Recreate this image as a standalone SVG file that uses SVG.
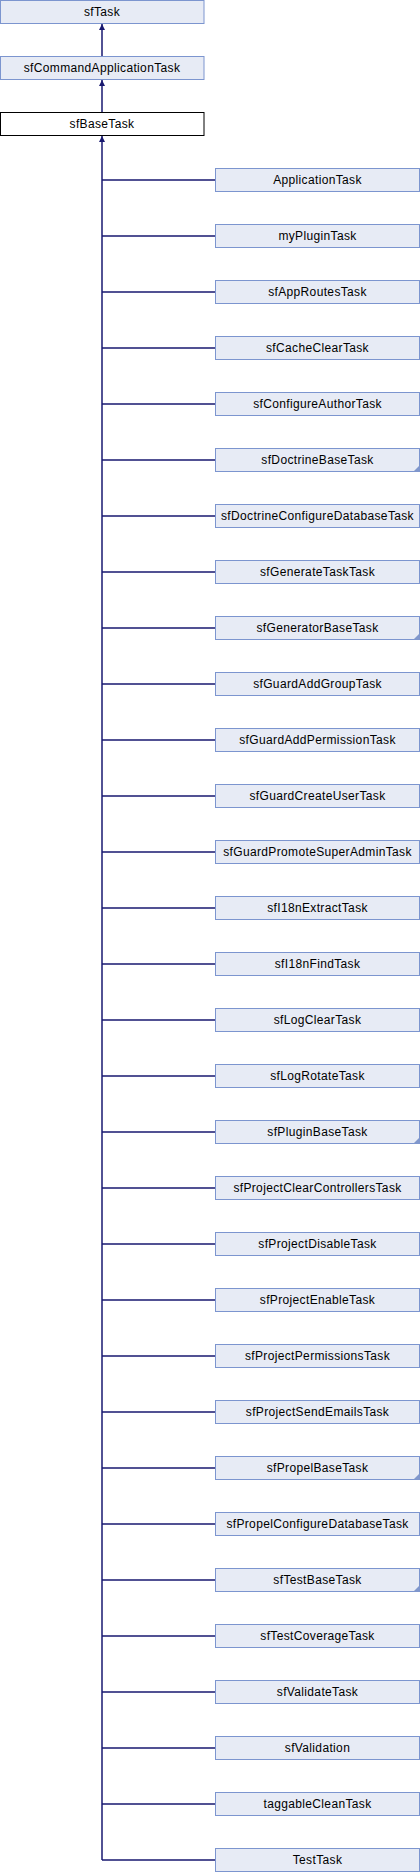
<svg xmlns="http://www.w3.org/2000/svg" width="420" height="1872" viewBox="0 0 420 1872">
<style>
.n rect{fill:#E7EBF5;stroke:#7C95CF;stroke-width:1}
.n.cur rect{fill:#FFFFFF;stroke:#000000}
.n text{font-family:"Liberation Sans",Arial,sans-serif;font-size:12px;letter-spacing:0.35px;fill:#000;text-anchor:middle}
.n polygon{fill:#8097CC;stroke:none}
.e{stroke:#191970;stroke-width:1.5;fill:none}
</style>
<defs>
<marker id="arr" markerUnits="userSpaceOnUse" viewBox="0 0 10 10" refX="10" refY="5" markerWidth="6" markerHeight="7" orient="auto">
<path d="M0,0 L10,5 L0,10 z" fill="#191970"/>
</marker>
</defs>
<g id="connectors">
<path class="e" d="M102,56.5 V24" marker-end="url(#arr)"/>
<path class="e" d="M102,112.5 V80" marker-end="url(#arr)"/>
<path class="e" d="M102,1860 V136" marker-end="url(#arr)"/>
<path class="e" d="M102,180 H215.5 M102,236 H215.5 M102,292 H215.5 M102,348 H215.5 M102,404 H215.5 M102,460 H215.5 M102,516 H215.5 M102,572 H215.5 M102,628 H215.5 M102,684 H215.5 M102,740 H215.5 M102,796 H215.5 M102,852 H215.5 M102,908 H215.5 M102,964 H215.5 M102,1020 H215.5 M102,1076 H215.5 M102,1132 H215.5 M102,1188 H215.5 M102,1244 H215.5 M102,1300 H215.5 M102,1356 H215.5 M102,1412 H215.5 M102,1468 H215.5 M102,1524 H215.5 M102,1580 H215.5 M102,1636 H215.5 M102,1692 H215.5 M102,1748 H215.5 M102,1804 H215.5 M102,1860 H215.5"/>
</g>
<g id="sfTask" class="n"><rect x="0.5" y="0.5" width="203.5" height="23"/><text x="102" y="16">sfTask</text></g>
<g id="sfCommandApplicationTask" class="n"><rect x="0.5" y="56.5" width="203.5" height="23"/><text x="102" y="72">sfCommandApplicationTask</text></g>
<g id="sfBaseTask" class="n cur"><rect x="0.5" y="112.5" width="203.5" height="23"/><text x="102" y="128">sfBaseTask</text></g>
<g id="ApplicationTask" class="n"><rect x="215.5" y="168.5" width="204" height="23"/><text x="317.5" y="184">ApplicationTask</text></g>
<g id="myPluginTask" class="n"><rect x="215.5" y="224.5" width="204" height="23"/><text x="317.5" y="240">myPluginTask</text></g>
<g id="sfAppRoutesTask" class="n"><rect x="215.5" y="280.5" width="204" height="23"/><text x="317.5" y="296">sfAppRoutesTask</text></g>
<g id="sfCacheClearTask" class="n"><rect x="215.5" y="336.5" width="204" height="23"/><text x="317.5" y="352">sfCacheClearTask</text></g>
<g id="sfConfigureAuthorTask" class="n"><rect x="215.5" y="392.5" width="204" height="23"/><text x="317.5" y="408">sfConfigureAuthorTask</text></g>
<g id="sfDoctrineBaseTask" class="n"><rect x="215.5" y="448.5" width="204" height="23"/><polygon points="419.5,465.5 419.5,471.5 413.5,471.5"/><text x="317.5" y="464">sfDoctrineBaseTask</text></g>
<g id="sfDoctrineConfigureDatabaseTask" class="n"><rect x="215.5" y="504.5" width="204" height="23"/><text x="317.5" y="520">sfDoctrineConfigureDatabaseTask</text></g>
<g id="sfGenerateTaskTask" class="n"><rect x="215.5" y="560.5" width="204" height="23"/><text x="317.5" y="576">sfGenerateTaskTask</text></g>
<g id="sfGeneratorBaseTask" class="n"><rect x="215.5" y="616.5" width="204" height="23"/><polygon points="419.5,633.5 419.5,639.5 413.5,639.5"/><text x="317.5" y="632">sfGeneratorBaseTask</text></g>
<g id="sfGuardAddGroupTask" class="n"><rect x="215.5" y="672.5" width="204" height="23"/><text x="317.5" y="688">sfGuardAddGroupTask</text></g>
<g id="sfGuardAddPermissionTask" class="n"><rect x="215.5" y="728.5" width="204" height="23"/><text x="317.5" y="744">sfGuardAddPermissionTask</text></g>
<g id="sfGuardCreateUserTask" class="n"><rect x="215.5" y="784.5" width="204" height="23"/><text x="317.5" y="800">sfGuardCreateUserTask</text></g>
<g id="sfGuardPromoteSuperAdminTask" class="n"><rect x="215.5" y="840.5" width="204" height="23"/><text x="317.5" y="856">sfGuardPromoteSuperAdminTask</text></g>
<g id="sfI18nExtractTask" class="n"><rect x="215.5" y="896.5" width="204" height="23"/><text x="317.5" y="912">sfI18nExtractTask</text></g>
<g id="sfI18nFindTask" class="n"><rect x="215.5" y="952.5" width="204" height="23"/><text x="317.5" y="968">sfI18nFindTask</text></g>
<g id="sfLogClearTask" class="n"><rect x="215.5" y="1008.5" width="204" height="23"/><text x="317.5" y="1024">sfLogClearTask</text></g>
<g id="sfLogRotateTask" class="n"><rect x="215.5" y="1064.5" width="204" height="23"/><text x="317.5" y="1080">sfLogRotateTask</text></g>
<g id="sfPluginBaseTask" class="n"><rect x="215.5" y="1120.5" width="204" height="23"/><polygon points="419.5,1137.5 419.5,1143.5 413.5,1143.5"/><text x="317.5" y="1136">sfPluginBaseTask</text></g>
<g id="sfProjectClearControllersTask" class="n"><rect x="215.5" y="1176.5" width="204" height="23"/><text x="317.5" y="1192">sfProjectClearControllersTask</text></g>
<g id="sfProjectDisableTask" class="n"><rect x="215.5" y="1232.5" width="204" height="23"/><text x="317.5" y="1248">sfProjectDisableTask</text></g>
<g id="sfProjectEnableTask" class="n"><rect x="215.5" y="1288.5" width="204" height="23"/><text x="317.5" y="1304">sfProjectEnableTask</text></g>
<g id="sfProjectPermissionsTask" class="n"><rect x="215.5" y="1344.5" width="204" height="23"/><text x="317.5" y="1360">sfProjectPermissionsTask</text></g>
<g id="sfProjectSendEmailsTask" class="n"><rect x="215.5" y="1400.5" width="204" height="23"/><text x="317.5" y="1416">sfProjectSendEmailsTask</text></g>
<g id="sfPropelBaseTask" class="n"><rect x="215.5" y="1456.5" width="204" height="23"/><polygon points="419.5,1473.5 419.5,1479.5 413.5,1479.5"/><text x="317.5" y="1472">sfPropelBaseTask</text></g>
<g id="sfPropelConfigureDatabaseTask" class="n"><rect x="215.5" y="1512.5" width="204" height="23"/><text x="317.5" y="1528">sfPropelConfigureDatabaseTask</text></g>
<g id="sfTestBaseTask" class="n"><rect x="215.5" y="1568.5" width="204" height="23"/><polygon points="419.5,1585.5 419.5,1591.5 413.5,1591.5"/><text x="317.5" y="1584">sfTestBaseTask</text></g>
<g id="sfTestCoverageTask" class="n"><rect x="215.5" y="1624.5" width="204" height="23"/><text x="317.5" y="1640">sfTestCoverageTask</text></g>
<g id="sfValidateTask" class="n"><rect x="215.5" y="1680.5" width="204" height="23"/><text x="317.5" y="1696">sfValidateTask</text></g>
<g id="sfValidation" class="n"><rect x="215.5" y="1736.5" width="204" height="23"/><text x="317.5" y="1752">sfValidation</text></g>
<g id="taggableCleanTask" class="n"><rect x="215.5" y="1792.5" width="204" height="23"/><text x="317.5" y="1808">taggableCleanTask</text></g>
<g id="TestTask" class="n"><rect x="215.5" y="1848.5" width="204" height="23"/><text x="317.5" y="1864">TestTask</text></g>
</svg>
